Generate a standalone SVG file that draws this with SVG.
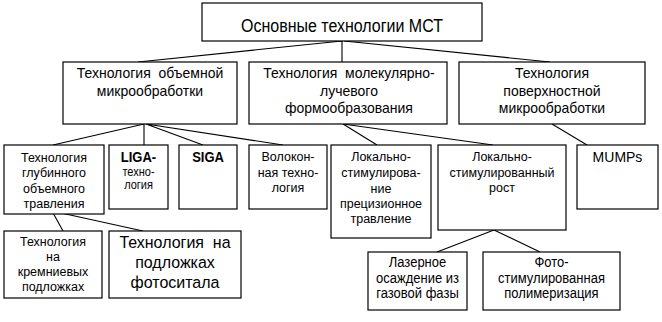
<svg xmlns="http://www.w3.org/2000/svg" width="662" height="322" viewBox="0 0 662 322">
  <style>
    .box { fill: #ffffff; stroke: #000000; stroke-width: 1.2; }
    .link { fill: none; stroke: #000000; stroke-width: 1.1; }
    text { font-family: "Liberation Sans", Arial, sans-serif; fill: #000000; text-anchor: middle; white-space: pre; }
    .s16 { font-size: 16px; }
    .s14 { font-size: 14px; }
    .s13 { font-size: 13px; }
    .s125 { font-size: 12.5px; }
    .s11 { font-size: 11px; }
    .b { font-weight: bold; }
  </style>
  <rect x="0" y="0" width="662" height="322" fill="#ffffff"/>

  <!-- connectors -->
  <g id="connectors">
    <path class="link" d="M342 41 L138 62 M342 41 L342 62 M344 41 L550 62"/>
    <path class="link" d="M144 124 L53 145 M144 124 L144 145 M146 124 L203 145 M146 124 L283 145"/>
    <path class="link" d="M343 124 L377 145 M343 124 L493 145"/>
    <path class="link" d="M552 124 L587 145"/>
    <path class="link" d="M52 211 L63 231 M52 211 L143 231"/>
    <path class="link" d="M494 230 L437 252 M494 230 L540 252"/>
  </g>

  <!-- root -->
  <g id="root">
    <rect class="box" x="202" y="3" width="280" height="38"/>
    <text class="s16" transform="translate(342,32) scale(1,1.1)">Основные технологии МСТ</text>
  </g>

  <!-- second level -->
  <g id="bulk">
    <rect class="box" x="63" y="62" width="174" height="62"/>
    <text class="s14" transform="translate(150,78) scale(1,1.08)"><tspan x="0" y="0">Технология  объемной</tspan><tspan x="0" y="16.7">микрообработки</tspan></text>
  </g>
  <g id="mbe">
    <rect class="box" x="249" y="62" width="198" height="62"/>
    <text class="s14" transform="translate(349,78) scale(1,1.08)"><tspan x="0" y="0">Технология  молекулярно-</tspan><tspan x="0" y="16.7">лучевого</tspan><tspan x="0" y="32.4">формообразования</tspan></text>
  </g>
  <g id="surface">
    <rect class="box" x="459" y="62" width="186" height="62"/>
    <text class="s14" transform="translate(552,78) scale(1,1.08)"><tspan x="0" y="0">Технология</tspan><tspan x="0" y="16.7">поверхностной</tspan><tspan x="0" y="32.4">микрообработки</tspan></text>
  </g>

  <!-- third level -->
  <g id="deep-etch">
    <rect class="box" x="4" y="145" width="100" height="69"/>
    <text class="s125" transform="translate(54,162) scale(1,1.08)"><tspan x="0" y="0">Технология</tspan><tspan x="0" y="14.2">глубинного</tspan><tspan x="0" y="28.7">объемного</tspan><tspan x="0" y="42.6">травления</tspan></text>
  </g>
  <g id="liga">
    <rect class="box" x="109" y="145" width="59" height="64"/>
    <text class="s13 b" transform="translate(138.5,162) scale(1,1.08)">LIGA-</text>
    <text class="s11" transform="translate(138.5,176) scale(1,1.08)"><tspan x="0" y="0">техно-</tspan><tspan x="0" y="11.6">логия</tspan></text>
  </g>
  <g id="siga">
    <rect class="box" x="179" y="145" width="58" height="64"/>
    <text class="s13 b" transform="translate(208,162) scale(1,1.08)">SIGA</text>
  </g>
  <g id="fiber">
    <rect class="box" x="249" y="145" width="78" height="64"/>
    <text class="s125" transform="translate(288,161) scale(1,1.08)"><tspan x="0" y="0">Волокон-</tspan><tspan x="0" y="14.8">ная техно-</tspan><tspan x="0" y="28.7">логия</tspan></text>
  </g>
  <g id="local-etch">
    <rect class="box" x="331" y="145" width="100" height="93"/>
    <text class="s125" transform="translate(381,161) scale(1,1.08)"><tspan x="0" y="0">Локально-</tspan><tspan x="0" y="14.8">стимулирова-</tspan><tspan x="0" y="29.6">ние</tspan><tspan x="0" y="43.5">прецизионное</tspan><tspan x="0" y="57.4">травление</tspan></text>
  </g>
  <g id="local-growth">
    <rect class="box" x="438" y="145" width="128" height="85"/>
    <text class="s125" transform="translate(502,161) scale(1,1.08)"><tspan x="0" y="0">Локально-</tspan><tspan x="0" y="14.8">стимулированный</tspan><tspan x="0" y="28.7">рост</tspan></text>
  </g>
  <g id="mumps">
    <rect class="box" x="577" y="145" width="81" height="64"/>
    <text class="s14" transform="translate(617.5,162) scale(1,1.08)">MUMPs</text>
  </g>

  <!-- fourth level -->
  <g id="silicon">
    <rect class="box" x="4" y="231" width="98" height="67"/>
    <text class="s125" transform="translate(53,246) scale(1,1.08)"><tspan x="0" y="0">Технология</tspan><tspan x="0" y="13.9">на</tspan><tspan x="0" y="27.8">кремниевых</tspan><tspan x="0" y="41.7">подложках</tspan></text>
  </g>
  <g id="photositall">
    <rect class="box" x="109" y="231" width="132" height="67"/>
    <text class="s16" transform="translate(175,248) scale(1,1.04)"><tspan x="0" y="0">Технология  на</tspan><tspan x="0" y="19.2">подложках</tspan><tspan x="0" y="38.5">фотоситала</tspan></text>
  </g>
  <g id="laser">
    <rect class="box" x="368" y="252" width="99" height="58"/>
    <text class="s13" transform="translate(417.5,267) scale(1,1.08)"><tspan x="0" y="0">Лазерное</tspan><tspan x="0" y="14.8">осаждение из</tspan><tspan x="0" y="28.7">газовой фазы</tspan></text>
  </g>
  <g id="photopolymer">
    <rect class="box" x="483" y="252" width="137" height="58"/>
    <text class="s13" transform="translate(551.5,267) scale(1,1.08)"><tspan x="0" y="0">Фото-</tspan><tspan x="0" y="14.8">стимулированная</tspan><tspan x="0" y="28.7">полимеризация</tspan></text>
  </g>
</svg>
